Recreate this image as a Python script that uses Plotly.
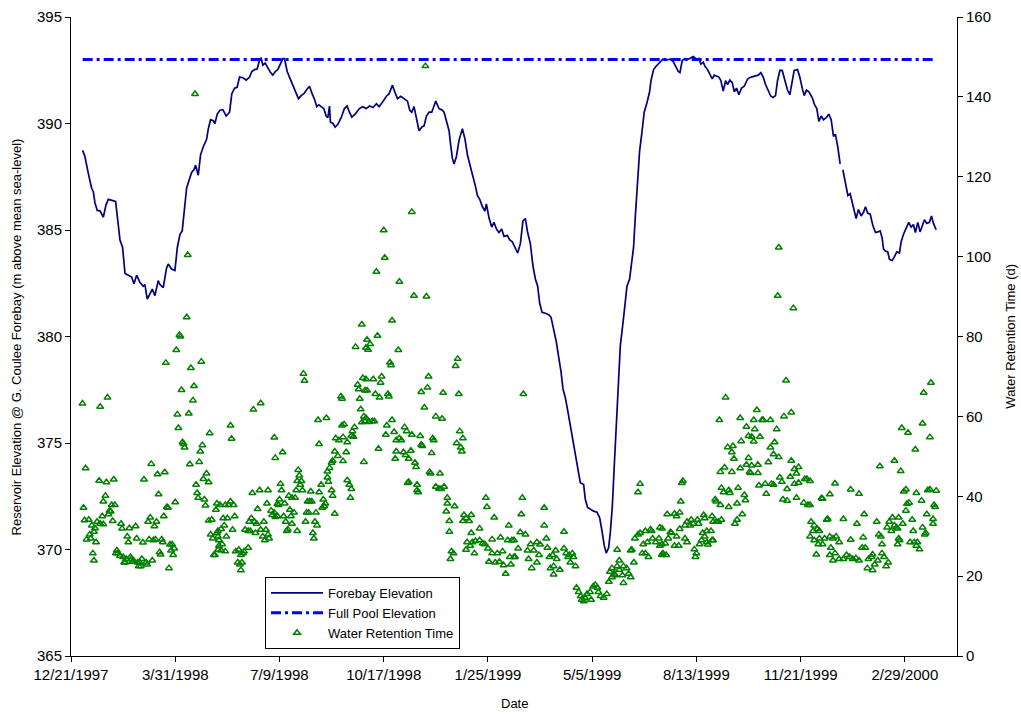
import pandas as pd
import plotly.graph_objects as go

START = pd.Timestamp("1997-12-21")

# Forebay elevation (m): days since 12/21/1997, elevation (None = gap in record)
fb_day = [11.2, 13.4, 16.6, 19.8, 21.4, 23.0, 25.2, 27.8, 31.0, 33.6, 35.8, 40.6, 42.8, 47.0, 49.5, 51.8,
          55.0, 58.2, 60.4, 63.0, 66.2, 69.3, 70.9, 73.2, 75.7, 78.0, 80.5, 83.7, 85.3, 88.5, 91.7, 93.3,
          96.5, 99.7, 102.0, 104.5, 106.7, 108.7, 110.9, 113.1, 115.7, 117.9, 119.5, 122.1, 124.3, 126.9,
          130.1, 131.7, 133.9, 136.5, 138.1, 140.3, 142.9, 145.7, 148.9, 152.1, 154.3, 156.9, 159.4, 161.7,
          164.9, 168.1, 171.3, 173.5, 176.1, 178.6, 180.8, 182.4, 184.0, 186.3, 188.8, 191.4, 193.6, 195.9,
          198.4, 201.0, 203.2, 204.8, 207.4, 209.6, 212.8, 216.0, 218.2, 220.8, 223.4, 226.6, 228.8, 231.3,
          233.6, 235.8, 237.7, 240.0, 242.5, 244.8, 246.4, 248.0, 248.9, 251.2, 253.4, 256.0, 259.2, 262.3,
          264.9, 267.1, 269.4, 272.6, 276.7, 279.9, 283.1, 286.6, 289.8, 293.0, 295.6, 299.4, 302.6, 305.2,
          308.4, 310.6, 313.2, 316.4, 319.6, 322.8, 325.0, 326.9, 329.1, 331.4, 333.9, 336.5, 338.7, 341.0,
          343.5, 346.1, 349.9, 353.1, 356.3, 357.9, 360.5, 362.7, 364.3, 365.9, 367.5, 369.7, 372.3, 375.5,
          378.0, 380.3, 382.5, 385.1, 387.6, 389.9, 392.1, 394.7, 397.2, 398.5, 401.0, 403.6, 405.8, 408.1,
          410.6, 413.2, 415.4, 418.6, 420.9, 423.4, 426.0, 428.5, 431.1, 433.6, 435.9, 438.1, 440.7, 443.2,
          445.5, 447.7, 449.6, 451.9, 455.1, 458.3, 460.5, 463.1, 465.6, 467.8, 470.1, 472.0, 474.2, 476.5,
          479.0, 481.6, 483.8, 486.1, 488.6, 491.8, 493.4, 495.6, 498.9, 501.4, 504.6, 507.2, 509.4, 511.6,
          513.5, 515.8, 517.4, 519.3, 521.2, 523.1, 525.1, 527.0, 529.5, 531.4, 533.4, 535.9, 538.2, 539.7,
          541.3, 542.9, 545.5, 547.7, 549.9, 552.5, 555.1, 556.4, 558.9, 561.5, 564.7, 567.9, 569.8, 574.6,
          577.8, 580.0, 582.6, 584.2, 586.4, 589.0, 592.2, 597.0, 600.2, 602.4, 604.3, 606.6, 608.1, 610.7,
          613.0, 615.2, 617.1, 619.3, 621.6, 623.5, 625.7, 628.0, 629.9, 632.1, 634.4, 636.3, 638.5, 640.7,
          643.3, 645.9, 649.1, 652.3, 655.4, 659.3, 661.8, 664.1, 666.3, 668.9, 671.4, 673.7, 675.9, 677.8,
          680.1, 682.3, 684.9, 687.4, 689.6, 691.2, 693.8, 697.0, 699.2, 701.5, 703.4, 705.6, 707.9, 711.1,
          713.3, 715.5, 717.5, 719.7, 721.9, 724.5, 727.0, 729.3, 731.5, 733.4, 735.7, 737.9, 739.2, 740.5,
          743.0, 745.3, 747.5, 749.4, 751.6, 753.2, 755.5, 758.0, 760.3, 762.2, 764.4, 766.7, 769.2, 771.8,
          774.0, 776.3, 778.2, 779.5, 781.4, 783.6, 785.2, 787.8, 790.0, 792.2, 794.8, 796.4, 798.6, 801.2,
          803.7, 806.0, 808.2, 810.1, 812.4, 814.6, 817.2, 818.8, 821.0, 823.6, 825.5, 827.4, 830.0]
fb_elev = [388.74, 388.44, 387.66, 386.96, 386.8, 386.27, 385.92, 385.9, 385.6, 386.18, 386.44, 386.35, 386.34,
           384.53, 384.18, 382.96, 382.88, 382.79, 382.48, 382.88, 382.53, 382.36, 382.44, 381.75, 382.0, 382.23,
           381.92, 382.62, 382.44, 382.3, 383.22, 383.4, 383.17, 383.1, 384.18, 384.79, 384.96, 386.09, 386.96,
           387.31, 387.7, 387.83, 388.04, 387.57, 388.53, 388.91, 389.26, 389.75, 390.18, 390.13, 390.0, 390.44,
           390.62, 390.65, 390.35, 390.53, 391.4, 391.66, 391.7, 392.18, 392.15, 392.04, 392.18, 392.44, 392.53,
           392.56, 392.96, 393.09, 392.74, 392.84, 392.62, 392.39, 392.27, 392.44, 392.53, 392.79, 393.05, 393.05,
           392.44, 392.18, 391.83, 391.49, 391.17, 391.31, 391.4, 391.62, 391.75, 391.4, 391.14, 390.79, 390.88,
           390.79, 390.7, 390.35, 390.27, 390.82, 390.06, 390.01, 389.83, 389.96, 390.27, 390.7, 390.82, 390.53,
           390.3, 390.44, 390.7, 390.79, 390.7, 390.82, 390.75, 390.93, 390.79, 391.05, 391.28, 391.4, 391.8,
           391.49, 391.17, 391.28, 391.17, 391.05, 390.62, 390.53, 390.79, 390.18, 389.66, 389.83, 389.89, 390.35,
           390.53, 390.53, 391.05, 390.7, 390.62, 390.53, 390.1, 389.66, 388.96, 388.36, 388.1, 388.44, 389.22,
           389.75, 389.26, 388.53, 388.1, 387.66, 387.14, 386.62, 386.44, 386.09, 385.89, 386.22, 385.57, 385.14,
           385.36, 385.05, 384.88, 385.05, 384.7, 384.74, 384.53, 384.44, 384.18, 383.92, 384.36, 385.43, 385.54,
           384.88, 384.36, 383.31, 382.7, 382.36, 381.57, 381.14, 381.09, 381.02, 380.91, 380.36, 379.75, 379.05,
           378.35, 377.54, 377.14, 376.53, 375.83, 375.22, 374.62, 373.92, 373.14, 373.05, 372.36, 371.97, 371.87,
           371.8, 371.75, 371.49, 370.88, 370.18, 369.83, 370.09, 370.79, 372.01, 373.92, 376.01, 378.09, 379.57,
           380.62, 381.4, 382.36, 382.7, 383.49, 384.18, 385.57, 386.96, 388.7, 389.57, 390.53, 390.96, 391.49,
           392.01, 392.53, 392.7, 392.84, 393.02, 392.96, 393.02, 392.91, 392.7, 392.44, 392.39, 392.96, 393.05,
           393.02, 393.14, 393.02, 393.05, 392.79, 392.88, 392.7, 392.53, 392.27, 392.09, 392.27, 392.22, 392.18,
           392.01, 391.52, 392.01, 391.83, 392.04, 391.92, 391.49, 391.66, 391.35, 391.66, 391.75, 392.09, 392.18,
           392.22, 392.27, 392.39, 392.18, 391.83, 391.57, 391.28, 391.22, 391.31, 392.01, 392.49, 392.49, 392.01,
           391.57, 391.35, 391.83, 392.49, 392.53, 392.18, 391.66, 391.31, 391.57, 391.49, 391.22, 390.88, 390.7,
           390.1, 390.35, 390.18, 390.27, 390.44, 390.18, 389.4, 389.49, 388.88, 388.1, None, 387.83, 387.14,
           386.62, 386.7, 386.27, 385.75, 385.54, 385.96, 385.66, 385.83, 386.09, 385.78, 385.75, 385.22, 384.88,
           384.91, 384.96, 384.62, 384.1, 384.01, 383.97, 383.62, 383.57, 383.75, 383.97, 383.92, 384.44, 384.79,
           385.05, 385.36, 385.14, 385.26, 384.88, 385.36, 384.91, 385.22, 385.48, 385.31, 385.36, 385.66, 385.31,
           385.01]

# Full pool elevation (m)
full_pool_day = [11.2, 830.0]
full_pool_elev = [393.0, 393.0]

# Water retention time (d): days since 12/21/1997, value
rt_day = [119, 112, 111, 104, 105, 101, 91, 115, 125, 106, 118, 117, 11, 28, 35, 102, 113, 103, 133, 107, 108, 109,
          126, 124, 123, 114, 14, 77, 90, 83, 130, 27, 34, 41, 70, 127, 132, 120, 33, 31, 84, 121, 122, 12, 39, 42,
          37, 140, 128, 129, 92, 93, 100, 139, 36, 38, 13, 17, 30, 25, 28, 31, 40, 76, 74, 89, 82, 80, 132, 135, 48,
          49, 56, 62, 20, 23, 22, 140, 141, 18, 15, 19, 24, 54, 63, 75, 79, 81, 87, 88, 69, 55, 134, 136, 95, 97, 99,
          142, 85, 86, 44, 43, 45, 47, 96, 98, 21, 22, 50, 53, 57, 58, 60, 51, 52, 59, 64, 66, 68, 72, 73, 65, 67,
          78, 137, 138, 94,
          279, 273, 283, 223, 224, 175, 182, 153, 154, 195, 196, 203, 237, 245, 238, 280, 275, 276, 284, 259, 260,
          277, 278, 281, 282, 279, 260, 262, 272, 270, 269, 254, 257, 261, 265, 271, 253, 256, 264, 261, 250, 251,
          248, 246, 281, 265, 267, 269, 268, 218, 219, 217, 221, 220, 246, 247, 250, 251, 240, 238, 242, 244, 243,
          241, 201, 202, 200, 198, 199, 205, 174, 181, 189, 209, 212, 215, 216, 222, 230, 227, 229, 231, 226, 228,
          235, 253, 188, 179, 192, 195, 198, 193, 196, 204, 210, 211, 214, 206, 212, 225, 234, 236, 232, 233, 217,
          207, 208, 173, 171, 176, 178, 185, 167, 170, 172, 177, 182, 184, 187, 189, 186, 190, 153, 156, 151, 148,
          143, 157, 150, 146, 155, 147, 144, 149, 141, 145, 142, 148, 144, 141, 158, 161, 163, 165, 166, 170, 160,
          162, 164, 163,
          340, 327, 300, 301, 293, 315, 329, 341, 308, 294, 284, 287, 285, 314, 306, 307, 371, 369, 283, 290, 298,
          297, 292, 296, 304, 305, 282, 343, 342, 336, 357, 372, 339, 350, 356, 283, 289, 291, 286, 308, 303, 302,
          310, 315, 317, 312, 320, 322, 327, 335, 295, 337, 336, 347, 348, 346, 373, 370, 376, 374, 375, 312, 311,
          319, 321, 326, 324, 330, 331, 323, 324, 332, 333, 332, 344, 345, 354, 350, 353, 358, 355, 361, 361, 368,
          360, 363, 363, 365, 367, 364, 377, 384, 379, 376, 382, 398, 399, 406, 420, 392, 384, 380, 385, 388, 392,
          395, 397, 387, 379, 383, 404, 412, 419, 423, 400, 404, 409, 414, 401, 407, 411, 415, 417, 421, 425, 422,
          434, 433, 432, 454, 454, 473, 431, 436, 425, 429, 426, 441, 438, 444, 447, 450, 456, 457, 439, 449, 447,
          442, 459, 462, 465, 466, 463, 460, 469, 463, 473, 475, 478, 481, 482, 484, 479, 477, 485, 487, 489, 490,
          493, 495, 498, 501, 503, 505, 506, 508, 511, 514, 492, 499, 516, 517, 519, 521, 524, 526, 529, 530, 533,
          535, 537, 524, 530, 526, 519, 522, 540, 538, 537, 546, 544, 541, 544, 546, 551, 556, 557, 565, 549, 553,
          548, 551, 554, 558, 561, 564, 567, 565, 567,
          679, 678, 693, 686, 628, 622, 658, 642, 655, 663, 664, 671, 648, 656, 677, 691, 684, 650, 653, 655, 661,
          643, 675, 671, 674, 679, 630, 635, 634, 636, 650, 627, 623, 634, 642, 648, 653, 651, 659, 652, 659, 669,
          691, 694, 698, 696, 690, 680, 682, 704, 706, 660, 666, 672, 674, 667, 687, 694, 698, 696, 683, 687, 703,
          707, 640, 646, 647, 639, 624, 626, 631, 632, 618, 619, 623, 631, 644, 639, 637, 586, 587, 585, 572, 579,
          581, 584, 591, 595, 594, 597, 601, 602, 607, 608, 615, 616, 624, 619, 621, 610, 606, 614, 584, 589, 576,
          573, 575, 567, 581, 589, 591, 579, 583, 570, 568, 571, 567, 598, 600, 599, 603, 605, 608, 610, 615, 616,
          611,
          825, 818, 797, 803, 817, 824, 810, 776, 790, 796, 709, 733, 748, 756, 728, 720, 721, 799, 801, 811, 822,
          824, 830, 804, 802, 816, 828, 829, 709, 710, 713, 725, 726, 741, 761, 754, 773, 785, 788, 794, 798, 790,
          801, 807, 821, 827, 827, 783, 787, 793, 792, 712, 716, 718, 709, 713, 718, 723, 728, 731, 734, 737, 717,
          721, 715, 729, 733, 728, 731, 737, 741, 744, 747, 748, 750, 753, 756, 759, 760, 762, 765, 768, 769, 764,
          769, 771, 774, 778, 778, 780, 782, 784, 775, 777, 794, 793, 795, 805, 808, 809, 812, 811, 814, 819, 820,
          817]
rt_val = [140.7, 100.4, 84.8, 80.4, 80.0, 76.6, 73.4, 72.1, 73.7, 66.6, 67.6, 64.0, 63.2, 62.4, 64.7, 60.5, 60.7,
          57.1, 55.8, 53.5, 53.1, 52.2, 52.8, 51.2, 48.6, 48.0, 47.0, 48.1, 46.0, 45.5, 45.7, 43.9, 43.5, 44.2, 44.2,
          44.3, 43.5, 42.9, 40.1, 38.7, 40.5, 40.8, 39.6, 37.1, 37.8, 37.8, 36.4, 38.2, 39.2, 37.7, 37.3, 37.1, 38.5,
          36.6, 35.5, 36.2, 34.0, 34.1, 35.0, 33.6, 33.1, 33.0, 33.8, 34.7, 33.6, 35.0, 33.6, 32.5, 33.9, 34.1, 33.1,
          31.9, 32.0, 32.5, 32.7, 32.0, 31.1, 30.8, 31.3, 30.4, 29.2, 29.4, 28.5, 29.9, 29.4, 29.2, 29.0, 29.2, 29.2,
          28.5, 28.4, 28.5, 30.4, 29.4, 27.9, 27.9, 26.9, 27.6, 26.0, 25.4, 26.4, 25.7, 25.7, 25.1, 26.4, 25.3, 25.7,
          23.9, 24.8, 24.3, 24.8, 24.3, 23.9, 23.4, 23.4, 23.6, 23.4, 23.4, 24.3, 23.4, 22.9, 22.5, 22.5, 23.9, 25.3,
          25.3, 22.0,
          83.0, 77.4, 77.2, 70.7, 68.9, 61.7, 63.3, 57.7, 54.4, 54.7, 49.6, 51.0, 59.1, 59.6, 53.1, 69.6, 67.9, 66.8,
          66.5, 65.0, 64.4, 64.4, 61.8, 60.0, 58.8, 58.5, 57.7, 58.0, 57.3, 56.3, 55.1, 54.5, 54.0, 54.8, 53.5, 54.9,
          51.2, 50.1, 51.0, 48.8, 48.4, 48.9, 47.1, 46.2, 48.6, 44.0, 42.9, 41.8, 39.6, 46.6, 45.2, 43.8, 43.8, 42.9,
          44.7, 43.6, 41.5, 40.1, 42.9, 41.0, 39.2, 38.2, 37.5, 37.1, 43.1, 41.5, 39.2, 38.1, 37.8, 38.2, 40.8, 41.5,
          41.5, 40.1, 39.6, 39.6, 41.5, 41.5, 41.2, 38.7, 38.7, 38.7, 35.9, 35.9, 35.9, 35.6, 38.2, 36.8, 36.4, 35.9,
          35.0, 35.3, 34.8, 35.0, 36.6, 35.0, 35.9, 33.6, 33.1, 33.6, 33.6, 32.7, 30.8, 29.4, 31.3, 31.3, 31.7, 34.5,
          33.6, 33.6, 33.1, 33.6, 31.6, 31.3, 31.3, 30.8, 31.6, 29.9, 31.6, 30.4, 29.0, 29.4, 38.7, 37.8, 37.8, 37.8,
          37.8, 35.0, 34.5, 34.5, 31.6, 32.7, 31.8, 29.9, 29.9, 28.0, 29.0, 26.2, 26.4, 26.6, 26.2, 26.6, 25.3, 25.7,
          26.2, 27.1, 23.4, 22.9, 23.4, 21.5,
          147.7, 111.2, 106.6, 99.7, 96.2, 93.7, 90.2, 90.0, 84.0, 80.2, 79.2, 78.1, 76.7, 76.6, 73.5, 72.8, 74.4,
          72.6, 69.3, 69.3, 70.0, 68.4, 65.6, 64.7, 65.6, 65.0, 66.5, 70.0, 67.2, 66.1, 65.9, 65.6, 62.2, 60.0, 59.4,
          59.6, 58.8, 58.8, 58.6, 59.1, 57.7, 55.4, 56.1, 54.5, 54.0, 54.0, 57.3, 56.3, 55.4, 55.1, 51.9, 52.6, 52.9,
          54.5, 54.0, 50.8, 56.3, 53.3, 54.5, 52.2, 51.2, 51.2, 49.4, 51.0, 50.3, 51.4, 49.4, 48.4, 47.3, 43.3, 43.6,
          42.9, 41.0, 41.5, 46.1, 45.7, 45.7, 42.4, 41.9, 42.4, 41.8, 39.6, 38.2, 37.5, 36.2, 33.8, 31.1, 26.2, 25.7,
          24.3, 35.3, 35.3, 34.5, 33.8, 33.8, 39.6, 37.3, 34.7, 32.7, 31.9, 30.8, 28.5, 28.5, 28.8, 29.0, 28.2, 28.0,
          25.7, 26.6, 27.6, 29.2, 29.7, 29.0, 29.0, 26.9, 25.7, 25.7, 26.2, 23.6, 23.4, 23.6, 22.7, 20.6, 24.8, 24.8,
          22.9,
          65.6, 39.6, 35.5, 37.1, 32.7, 31.1, 31.0, 30.4, 29.0, 26.9, 24.8, 28.0, 26.4, 26.4, 28.5, 27.9, 29.4, 27.1,
          24.3, 25.3, 23.4, 22.0, 24.8, 25.3, 26.4, 24.3, 22.5, 22.0, 21.6, 20.4, 26.9, 25.7, 25.3, 25.7, 24.8, 22.5,
          23.4, 24.8, 17.1, 16.0, 15.0, 14.1, 14.6, 15.5, 16.0, 17.4, 17.8, 17.1, 16.0, 15.0, 14.6, 15.5, 13.7, 14.1,
          18.6, 21.1, 22.0, 20.6, 22.5, 21.6, 20.2, 22.5, 22.0, 20.6, 19.7, 26.6, 18.3, 23.9, 19.7, 20.2, 23.4, 26.6,
          26.4, 43.1, 41.0, 29.4, 30.4, 30.8, 31.3, 31.7, 31.3, 32.2, 28.0, 28.5, 25.7, 25.7, 24.8, 29.4, 28.5, 29.4,
          28.0, 27.6, 25.3,
          102.3, 90.2, 87.1, 69.0, 64.7, 59.1, 61.6, 59.6, 59.1, 59.1, 59.1, 59.1, 57.4, 56.8, 56.8, 61.0, 60.0, 55.1,
          54.9, 53.7, 54.9, 53.8, 53.5, 52.2, 50.5, 49.8, 52.3, 52.6, 51.0, 49.4, 49.6, 47.2, 46.1, 46.1, 47.0, 47.9,
          47.7, 46.1, 47.9, 45.8, 45.8, 48.5, 48.9, 46.8, 47.3, 45.7, 44.9, 44.7, 43.6, 44.3, 44.3, 42.7, 43.1, 43.1,
          42.9, 40.6, 41.8, 43.1, 43.4, 39.6, 39.2, 38.9, 38.4, 37.8, 42.1, 40.3, 39.0, 38.2, 42.1, 41.0, 41.5, 40.8,
          39.2, 38.7, 37.8, 37.3, 35.5, 34.1, 33.1, 43.3, 43.8, 38.7, 35.5, 35.6, 35.0, 35.9, 33.6, 34.1, 32.7, 33.1,
          34.1, 33.1, 35.3, 34.5, 35.0, 33.6, 34.1, 33.6, 33.6, 31.3, 30.8, 31.3, 31.8, 32.7, 30.8, 29.4, 31.0, 31.9,
          29.9, 29.4, 28.5, 27.6, 27.6, 28.2, 25.7, 25.3, 25.4, 26.7, 25.7, 24.8, 28.0, 29.0, 29.9, 28.5, 29.0, 29.0,
          27.9,
          68.4, 65.9, 57.1, 55.9, 58.2, 54.8, 51.7, 47.5, 48.9, 46.3, 43.8, 43.2, 41.7, 40.6, 40.5, 39.5, 39.4, 41.2,
          41.7, 40.8, 41.5, 41.7, 41.4, 38.4, 38.1, 38.9, 37.8, 37.3, 37.8, 33.6, 32.7, 34.1, 34.3, 34.3, 35.5, 33.1,
          33.6, 33.6, 34.7, 34.7, 33.1, 32.7, 36.4, 34.1, 35.5, 34.3, 33.1, 32.2, 31.3, 31.9, 32.2, 31.3, 31.8, 31.3,
          29.9, 29.0, 29.4, 29.4, 29.9, 29.4, 29.9, 28.5, 28.0, 28.0, 25.4, 27.1, 25.7, 25.3, 23.9, 24.3, 24.3, 25.3,
          24.8, 29.1, 24.3, 24.5, 23.9, 27.1, 29.7, 27.1, 24.3, 24.8, 25.4, 22.0, 21.5, 22.9, 23.9, 25.7, 28.0, 24.8,
          22.5, 23.4, 30.4, 29.9, 29.4, 28.0, 29.0, 28.5, 31.3, 28.5, 28.5, 27.6, 26.7, 30.4, 30.8, 32.2]

# Axis ticks
x_tick_dates = ["1997-12-21", "1998-03-31", "1998-07-09", "1998-10-17", "1999-01-25",
                "1999-05-05", "1999-08-13", "1999-11-21", "2000-02-29"]
x_tick_labels = ["12/21/1997", "3/31/1998", "7/9/1998", "10/17/1998", "1/25/1999",
                 "5/5/1999", "8/13/1999", "11/21/1999", "2/29/2000"]


def to_dates(days):
    return [START + pd.Timedelta(days=d) for d in days]


FONT = "Arial, 'Liberation Sans', sans-serif"

fig = go.Figure()
fig.add_trace(go.Scatter(
    x=to_dates(fb_day), y=fb_elev, mode="lines", name="Forebay Elevation",
    line=dict(color="#000080", width=1.7), connectgaps=False))
fig.add_trace(go.Scatter(
    x=to_dates(full_pool_day), y=full_pool_elev, mode="lines", name="Full Pool Elevation",
    line=dict(color="#0000FF", width=3, dash="10px,4px,3px,4px")))
fig.add_trace(go.Scatter(
    x=to_dates(rt_day), y=rt_val, mode="markers", name="Water Retention Time", yaxis="y2",
    marker=dict(symbol="triangle-up-open", size=6, color="#008000", line=dict(width=1.5, color="#008000"))))

axis_common = dict(showline=True, linecolor="black", linewidth=1, ticks="outside", ticklen=5,
                   tickcolor="black", showgrid=False, zeroline=False, automargin=False,
                   tickfont=dict(family=FONT, size=15, color="black"))

fig.update_layout(
    width=1021, height=715,
    margin=dict(l=71, r=64, t=17, b=59, autoexpand=False),
    paper_bgcolor="white", plot_bgcolor="white",
    font=dict(family=FONT, color="black"),
    showlegend=True,
    xaxis=dict(type="date", range=["1997-12-21", "2000-04-19"], tickmode="array",
               tickvals=x_tick_dates, ticktext=x_tick_labels, **axis_common),
    yaxis=dict(range=[365, 395], dtick=5, tick0=365, **axis_common),
    yaxis2=dict(range=[0, 160], dtick=20, tick0=0, overlaying="y", side="right", **axis_common),
    legend=dict(x=0.219, y=0.1236, xanchor="left", yanchor="top",
                bgcolor="white", bordercolor="black", borderwidth=1,
                font=dict(family=FONT, size=13, color="black"),
                tracegroupgap=0, itemwidth=52),
    annotations=[
        dict(text="Date", xref="paper", yref="paper", x=0.5, y=-0.075, showarrow=False,
             xanchor="center", yanchor="middle", font=dict(family=FONT, size=13)),
        dict(text="Reservoir Elevation @ G. Coulee Forebay (m above mean sea-level)", xref="paper",
             yref="paper", x=-0.061, y=0.5, textangle=-90, showarrow=False,
             xanchor="center", yanchor="middle", font=dict(family=FONT, size=13)),
        dict(text="Water Retention Time (d)", xref="paper", yref="paper", x=1.06, y=0.5,
             textangle=-90, showarrow=False, xanchor="center", yanchor="middle",
             font=dict(family=FONT, size=13)),
    ],
)

fig.write_html("out.html", config={"displayModeBar": False},
               post_script="document.body.style.margin='0px';document.body.style.padding='0px';")
